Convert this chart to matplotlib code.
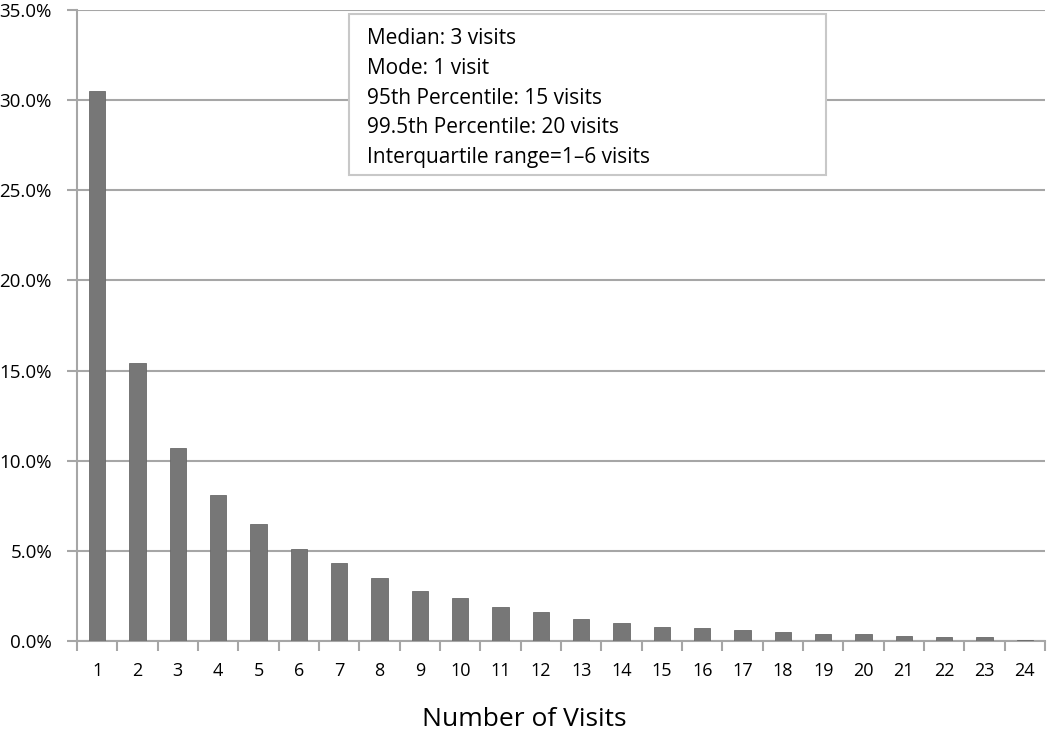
import numpy as np
import matplotlib.pyplot as plt
from matplotlib.patches import Rectangle
from matplotlib.ticker import FuncFormatter, FixedLocator

plt.rcParams['font.family'] = ['Open Sans', 'DejaVu Sans']

visits = list(range(1, 25))
percent = [30.5, 15.4, 10.7, 8.1, 6.5, 5.1, 4.3, 3.5, 2.8, 2.4, 1.9, 1.6,
           1.2, 1.0, 0.8, 0.7, 0.6, 0.5, 0.4, 0.4, 0.3, 0.2, 0.2, 0.05]
y_ticks = [0, 5, 10, 15, 20, 25, 30, 35]
stats_text = ("Median: 3 visits\n"
              "Mode: 1 visit\n"
              "95th Percentile: 15 visits\n"
              "99.5th Percentile: 20 visits\n"
              "Interquartile range=1\u20136 visits")

grey = "#a6a6a6"
W, H = 1050, 734

fig = plt.figure(figsize=(10.5, 7.34), dpi=100)
ax = fig.add_axes([77 / W, 93 / H, 968 / W, 631 / H])

ax.bar(visits, percent, width=0.4, color="#777777", edgecolor="#6a6a6a",
       linewidth=0.6, zorder=3)

ax.set_xlim(0.5, 24.5)
ax.set_ylim(0, 35)
ax.set_yticks(y_ticks)
ax.yaxis.set_major_formatter(FuncFormatter(lambda v, p: f"{v:.1f}%"))
ax.grid(axis="y", color=grey, linewidth=1.5, zorder=0)

ax.set_xticks(visits)
ax.set_xticklabels([str(v) for v in visits])
ax.xaxis.set_minor_locator(FixedLocator(np.arange(0.5, 25, 1)))
ax.tick_params(axis="x", which="major", length=0, pad=15, labelsize=13)
ax.tick_params(axis="x", which="minor", length=7, width=1.5, color=grey)
ax.tick_params(axis="y", length=7, width=1.5, color=grey, labelsize=13.5, pad=11)

for s in ["top", "right"]:
    ax.spines[s].set_visible(False)
for s in ["left", "bottom"]:
    ax.spines[s].set_color(grey)
    ax.spines[s].set_linewidth(1.5)

fig.text(524 / W, 1 - 720 / H, "Number of Visits", fontsize=19,
         ha="center", va="center")

# stats box
fig.patches.append(Rectangle((349 / W, 1 - 175 / H), 477 / W, 161 / H,
                             transform=fig.transFigure, facecolor="white",
                             edgecolor="#c8c8c8", linewidth=1.5, zorder=5))
fig.text(367 / W, 1 - 28 / H, stats_text, fontsize=15, va="top",
         ha="left", linespacing=1.55, zorder=6)

fig.savefig("out.png", dpi=100)
